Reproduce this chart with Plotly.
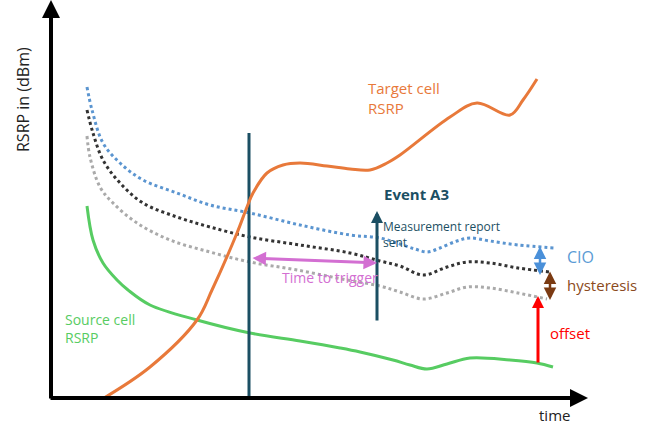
import plotly.graph_objects as go

# ---------------- data (time units / RSRP units) ----------------
cio_time = [87, 92, 103, 120, 143, 177, 210, 250, 300, 350, 380, 400, 415, 427, 440, 457, 470, 490, 518, 555]
cio_rsrp = [340, 317, 284, 264, 247, 234, 222, 214, 202, 192, 189, 183, 178, 175, 179, 186, 189, 186, 182, 179]

hys_time = [87, 93, 103, 120, 143, 177, 210, 250, 300, 350, 380, 400, 423, 447, 467, 490, 518, 550]
hys_rsrp = [317, 294, 267, 244, 224, 210, 200, 190, 182, 174, 166, 161, 152, 160, 165, 164, 159, 155]

off_time = [87, 90, 100, 113, 137, 170, 210, 250, 297, 347, 380, 400, 423, 447, 467, 490, 518, 547]
off_rsrp = [291, 270, 240, 224, 204, 187, 175, 165, 157, 147, 141, 135, 128, 134, 140, 139, 134, 128]

source_time = [87, 93, 103, 117, 128, 150, 197, 250, 300, 340, 360, 393, 410, 427, 447, 470, 510, 537, 553]
source_rsrp = [221, 187, 164, 147, 137, 122, 107, 94, 86, 79, 75, 67, 62, 58, 63, 69, 67, 64, 60]

target_time = [104, 150, 197, 212, 237, 247, 253, 267, 283, 300, 327, 350, 370, 387, 400, 450, 477, 510, 523, 537]
target_rsrp = [29, 60, 107, 137, 194, 220, 234, 254, 262, 264, 261, 258, 257, 264, 272, 310, 324, 312, 327, 348]

ttt_start = 249          # A3 entering condition met
ttt_end = 377            # measurement report sent
ttt_line_low, ttt_line_high = 29, 294
report_low, report_high = 105, 216
ttt_arrow_start_rsrp, ttt_arrow_end_rsrp = 169, 164

cio_marker_time = 540
cio_marker = (182, 152)
hys_marker_time = 550
hys_marker = (157, 127)
offset_marker_time = 538
offset_marker = (63, 131)

x_axis_level = 29
x_axis_start, x_axis_end = 49, 588
y_axis_time = 51
y_axis_start, y_axis_end = 27, 427

FONT = "Open Sans"
ORANGE = "#E8793A"
GREEN = "#57CC62"
TEAL = "#1B4F63"
BLUE = "#5B95D0"
PINK = "#D36FD2"

fig = go.Figure()

fig.add_trace(go.Scatter(x=cio_time, y=cio_rsrp, mode="lines",
                         line=dict(color=BLUE, width=3, dash="3px,3px", shape="spline")))
fig.add_trace(go.Scatter(x=hys_time, y=hys_rsrp, mode="lines",
                         line=dict(color="#333333", width=3, dash="3px,3px", shape="spline")))
fig.add_trace(go.Scatter(x=off_time, y=off_rsrp, mode="lines",
                         line=dict(color="#AAAAAA", width=3, dash="3px,3px", shape="spline")))
fig.add_trace(go.Scatter(x=source_time, y=source_rsrp, mode="lines",
                         line=dict(color=GREEN, width=3, shape="spline")))
fig.add_trace(go.Scatter(x=[ttt_start, ttt_start], y=[ttt_line_low, ttt_line_high], mode="lines",
                         line=dict(color=TEAL, width=3)))
fig.add_trace(go.Scatter(x=target_time, y=target_rsrp, mode="lines",
                         line=dict(color=ORANGE, width=3, shape="spline")))


def arrow(x0, y0, x1, y1, color, width, size, both=False):
    fig.add_annotation(x=x1, y=y1, ax=x0, ay=y0, xref="x", yref="y", axref="x", ayref="y",
                       text="", showarrow=True, arrowhead=2, arrowsize=size, arrowwidth=width,
                       arrowcolor=color, arrowside="end+start" if both else "end",
                       standoff=0, startstandoff=0)


# axes
arrow(y_axis_time, y_axis_start, y_axis_time, y_axis_end, "black", 4, 0.9)
arrow(x_axis_start, x_axis_level, x_axis_end, x_axis_level, "black", 4, 0.9)

# measurement report arrow
arrow(ttt_end, report_low, ttt_end, report_high, TEAL, 3, 0.8)
# time to trigger
arrow(ttt_start + 2, ttt_arrow_start_rsrp, ttt_end, ttt_arrow_end_rsrp, PINK, 3, 0.9, both=True)
# CIO / hysteresis / offset
arrow(cio_marker_time, cio_marker[0], cio_marker_time, cio_marker[1], "#4A90D9", 2.5, 1.0, both=True)
arrow(hys_marker_time, hys_marker[0], hys_marker_time, hys_marker[1], "#7B3A12", 2.5, 1.0, both=True)
arrow(offset_marker_time, offset_marker[0], offset_marker_time, offset_marker[1], "#FF0000", 3, 0.8)


def label(text, x, y, color, size, xanchor="left", bold=False, angle=0):
    fig.add_annotation(x=x, y=y, xref="x", yref="y", text=("<b>%s</b>" % text) if bold else text,
                       showarrow=False, xanchor=xanchor, yanchor="middle", align="left",
                       textangle=angle, font=dict(family=FONT, size=size, color=color))


label("Target cell<br>RSRP", 366, 329, ORANGE, 15)
label("Source cell<br>RSRP", 63, 99, GREEN, 14)
label("Event A3", 382, 233, TEAL, 15, bold=True)
label("Measurement report<br>sent", 381, 193, TEAL, 12)
label("Time to trigger", 280, 150, PINK, 14)
label("CIO", 565, 170, "#5B9BD5", 16)
label("hysteresis", 565, 142, "#8B4A20", 15)
label("offset", 548, 94, "#FF0000", 15)
label("time", 554, 12, "#222222", 15, xanchor="center")
label("RSRP in (dBm)", 23, 327, "#222222", 16, xanchor="center", angle=-90)

fig.update_layout(
    width=653, height=427, margin=dict(l=0, r=0, t=0, b=0),
    paper_bgcolor="white", plot_bgcolor="white", showlegend=False,
    xaxis=dict(range=[0, 653], visible=False, fixedrange=True),
    yaxis=dict(range=[0, 427], visible=False, fixedrange=True),
)

fig.write_html("out.html", config={"displayModeBar": False},
               post_script="document.body.style.margin='0px';")
